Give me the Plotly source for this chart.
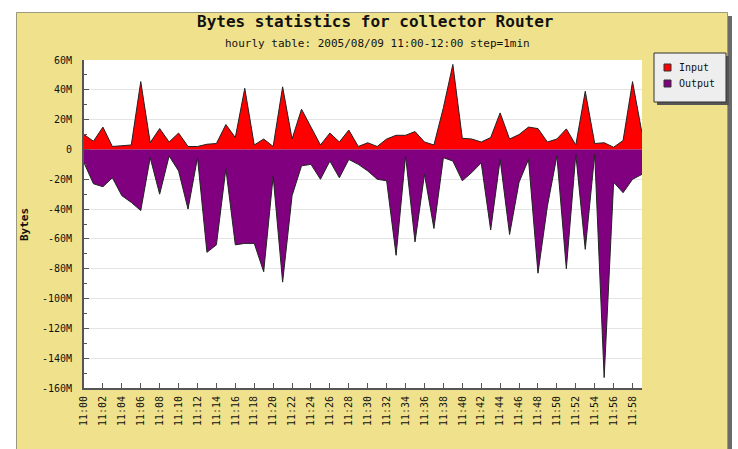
import plotly.graph_objects as go

# ---- data (values in millions of bytes) ----
minutes = [f"11:{m:02d}" for m in range(60)]
x_tick_labels = minutes[::2]

input_mb = [10, 5.5, 15, 2, 2.5, 3, 45.5, 4.6, 14, 5,
            11, 2, 2, 3.5, 4, 16.7, 8, 41, 3, 7,
            2, 42, 7, 27, 15, 3, 11, 5, 13, 2,
            4.5, 2, 7, 9.5, 9.5, 12, 5, 3, 28, 57,
            7.5, 7, 5, 8, 24.5, 7, 10, 15, 14, 5,
            7, 13.8, 3, 39, 4, 4.5, 1.5, 6, 45.5, 11]

output_mb = [-9, -23, -25, -19, -31, -35.5, -41, -5.5, -30, -4.4,
             -14.4, -40, -5.5, -69, -64, -13, -64, -63, -63, -82,
             -18, -89, -31, -11, -10, -20, -7.8, -19, -6.7, -10,
             -14.4, -20, -21, -71, -4.4, -62, -16.7, -53, -5.5, -7.8,
             -21, -15.5, -9, -54, -6.7, -57, -22, -6.7, -83, -38,
             -4.4, -80, -3.3, -67, -3.3, -153, -22, -29, -20, -16.7]

y_tick_vals = [60, 40, 20, 0, -20, -40, -60, -80, -100, -120, -140, -160]
y_tick_labels = ["60M", "40M", "20M", "0", "-20M", "-40M", "-60M", "-80M",
                 "-100M", "-120M", "-140M", "-160M"]

series_names = ["Input", "Output"]
series_colors = ["#FF0000", "#800080"]

title_text = "Bytes statistics for collector Router"
subtitle_text = "hourly table: 2005/08/09 11:00-12:00 step=1min"
y_title = "Bytes"

# ---- layout geometry (page pixels) ----
W, H = 738, 449
PL, PR, PT, PB = 84, 642, 60, 388


def px_x(x):
    return (x - PL) / (PR - PL)


def px_y(y):
    return (PB - y) / (PB - PT)


MONO = "DejaVu Sans Mono"
PANEL = "#F0E28C"
BOTTOM = 449

fig = go.Figure()
for name, vals, col in zip(series_names, [input_mb, output_mb], series_colors):
    fig.add_trace(go.Scatter(
        x=minutes, y=vals, mode="lines", fill="tozeroy", fillcolor=col,
        line=dict(color="#222222", width=1), name=name, showlegend=False,
        hoverinfo="skip",
    ))

shapes = [
    # panel shadow (right side)
    dict(type="rect", xref="paper", yref="paper", layer="below",
         x0=px_x(20), x1=px_x(732), y0=px_y(BOTTOM), y1=px_y(16),
         fillcolor="#6a6a6a", line=dict(width=0)),
    # yellow panel
    dict(type="rect", xref="paper", yref="paper", layer="below",
         x0=px_x(16), x1=px_x(728), y0=px_y(BOTTOM), y1=px_y(12),
         fillcolor=PANEL, line=dict(width=0)),
    # panel border: left, top, right
    dict(type="path", xref="paper", yref="paper", layer="below",
         path=(f"M {px_x(16.5)} {px_y(BOTTOM)} L {px_x(16.5)} {px_y(12.5)} "
               f"L {px_x(727.5)} {px_y(12.5)} L {px_x(727.5)} {px_y(BOTTOM)}"),
         line=dict(color="#9a9a80", width=1)),
    # white plot area
    dict(type="rect", xref="paper", yref="paper", layer="below",
         x0=0, x1=1, y0=0, y1=1, fillcolor="white", line=dict(width=0)),
    # legend shadow
    dict(type="rect", xref="paper", yref="paper", layer="above",
         x0=px_x(657), x1=px_x(729), y0=px_y(105), y1=px_y(56),
         fillcolor="#555555", line=dict(width=0)),
    # legend box
    dict(type="rect", xref="paper", yref="paper", layer="above",
         x0=px_x(654), x1=px_x(726), y0=px_y(102), y1=px_y(53),
         fillcolor="#EEEEEE", line=dict(color="#333333", width=1)),
]

annotations = [
    dict(text=f"<b>{title_text}</b>", xref="paper", yref="paper",
         x=px_x(375), y=px_y(22), showarrow=False, xanchor="center", yanchor="middle",
         font=dict(family=MONO, size=16, color="#111")),
    dict(text=subtitle_text, xref="paper", yref="paper",
         x=px_x(377), y=px_y(44), showarrow=False, xanchor="center", yanchor="middle",
         font=dict(family=MONO, size=11, color="#111")),
    dict(text=f"<b>{y_title}</b>", xref="paper", yref="paper", textangle=-90,
         x=px_x(24), y=px_y(225), showarrow=False, xanchor="center", yanchor="middle",
         font=dict(family=MONO, size=11, color="#111")),
]

leg_y = [67.5, 83.5]
for name, col, ly in zip(series_names, series_colors, leg_y):
    shapes.append(dict(type="rect", xref="paper", yref="paper", layer="above",
                       x0=px_x(664), x1=px_x(671), y0=px_y(ly + 3.5), y1=px_y(ly - 3.5),
                       fillcolor=col, line=dict(color="#333", width=1)))
    annotations.append(dict(text=name, xref="paper", yref="paper",
                            x=px_x(677), y=px_y(ly), showarrow=False,
                            xanchor="left", yanchor="middle",
                            font=dict(family=MONO, size=10, color="#111")))

fig.update_layout(
    template="none",
    width=W, height=H,
    margin=dict(l=PL, r=W - PR, t=PT, b=H - PB, autoexpand=False),
    paper_bgcolor="white",
    plot_bgcolor="white",
    showlegend=False,
    hovermode=False,
    shapes=shapes,
    annotations=annotations,
    xaxis=dict(
        type="category", range=[0, 59],
        tickmode="array", tickvals=x_tick_labels, ticktext=x_tick_labels,
        tickangle=-90, ticks="inside", ticklen=5, tickcolor="#555",
        tickfont=dict(family=MONO, size=10, color="#111"),
        showgrid=False, zeroline=False,
        showline=True, linecolor="#555", linewidth=2,
        ticklabelstandoff=2,
    ),
    yaxis=dict(
        range=[-160, 60],
        tickmode="array", tickvals=y_tick_vals, ticktext=y_tick_labels,
        ticks="inside", ticklen=5, tickcolor="#555",
        tickfont=dict(family=MONO, size=10, color="#111"),
        showgrid=True, gridcolor="#E4E4E4", gridwidth=1,
        zeroline=False,
        showline=True, linecolor="#555", linewidth=2,
        ticklabelstandoff=8,
        minor=dict(dtick=10, tick0=0, ticks="inside", ticklen=3, tickcolor="#555", showgrid=False),
    ),
)

fig.write_html(
    "out.html",
    config={"displayModeBar": False, "staticPlot": True},
    post_script="document.body.style.margin='0';document.body.style.overflow='hidden';",
)
